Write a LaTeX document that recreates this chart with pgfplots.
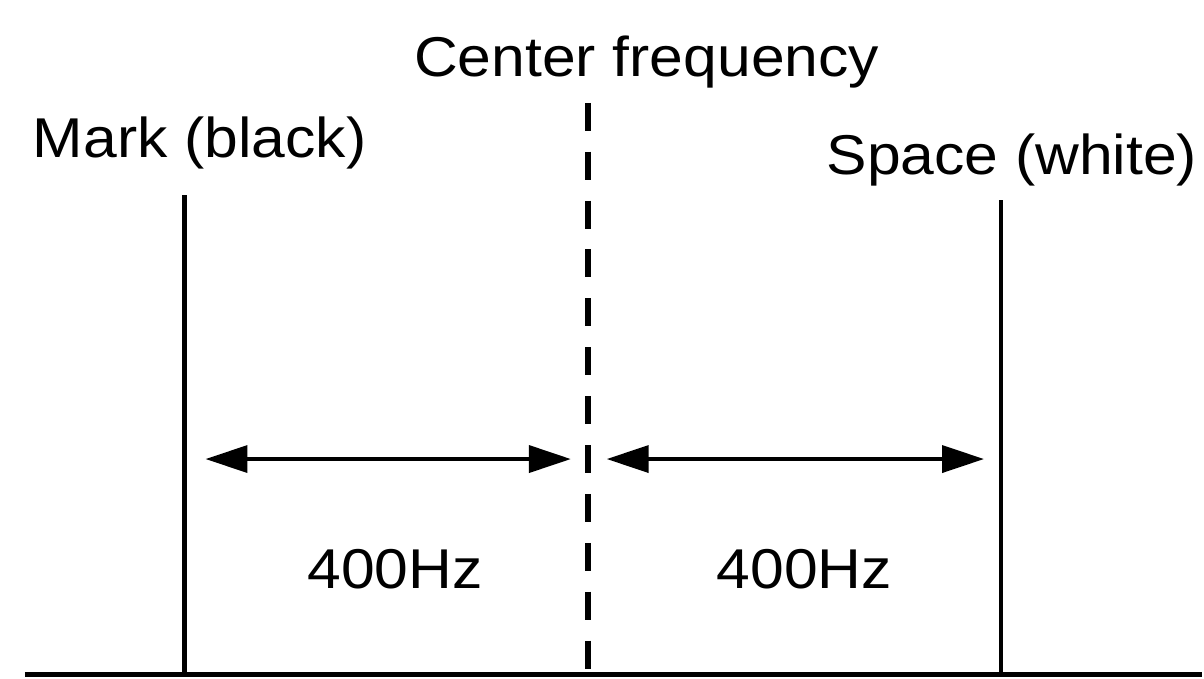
\documentclass[border=0pt]{standalone}
\usepackage{fontspec}
\setmainfont{Liberation Sans}
\usepackage{graphicx}
\usepackage{pgfplots}
\pgfplotsset{compat=1.18}
\usetikzlibrary{arrows.meta}
\begin{document}
\begin{tikzpicture}
\begin{axis}[
  scale only axis, width=12.04cm, height=6.8cm,
  xmin=0, xmax=1204, ymin=0, ymax=680,
  hide axis, clip=false,
]
\path (axis cs:0,0) rectangle (axis cs:1204,680);
% baseline
\addplot[black, line width=1.4pt] coordinates {(25,4) (1204,4)};
% mark line
\addplot[black, line width=1.4pt] coordinates {(185,4) (185,485)};
% space line
\addplot[black, line width=1.4pt] coordinates {(1003,4) (1003,480)};
% center dashed line
\addplot[black, line width=1.8pt, dash pattern=on 7.97pt off 5.97pt] coordinates {(589,577) (589,8)};
% arrows
\addplot[black, line width=1.1pt, {Triangle[length=0.42cm,width=0.27cm]}-{Triangle[length=0.42cm,width=0.27cm]}] coordinates {(206,220) (572,220)};
\addplot[black, line width=1.1pt, {Triangle[length=0.42cm,width=0.27cm]}-{Triangle[length=0.42cm,width=0.27cm]}] coordinates {(608,220) (986,220)};
% labels
\node[anchor=base, inner sep=0pt, font=\fontsize{16}{18}\selectfont] at (axis cs:648,603) {\scalebox{1.08}[1]{Center frequency}};
\node[anchor=base, inner sep=0pt, font=\fontsize{16}{18}\selectfont] at (axis cs:200,522) {\scalebox{1.08}[1]{Mark (black)}};
\node[anchor=base, inner sep=0pt, font=\fontsize{16}{18}\selectfont] at (axis cs:1014,505) {\scalebox{1.08}[1]{Space (white)}};
\node[anchor=base, inner sep=0pt, font=\fontsize{16}{18}\selectfont] at (axis cs:396,90) {\scalebox{1.08}[1]{400Hz}};
\node[anchor=base, inner sep=0pt, font=\fontsize{16}{18}\selectfont] at (axis cs:806,90) {\scalebox{1.08}[1]{400Hz}};
\end{axis}
\end{tikzpicture}
\end{document}
